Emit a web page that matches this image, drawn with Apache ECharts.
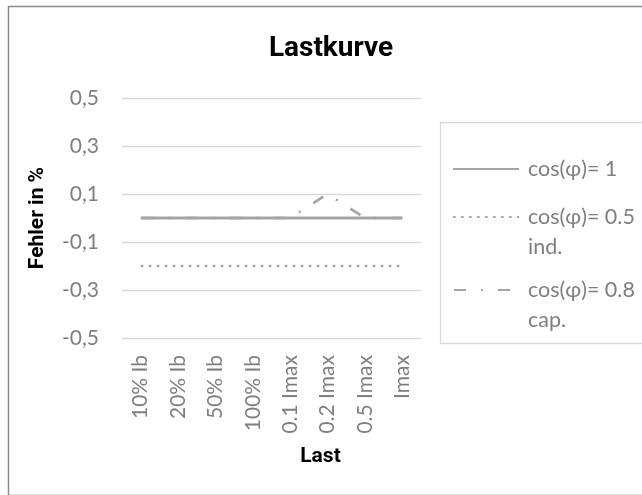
<!DOCTYPE html>
<html>
<head>
<meta charset="utf-8">
<script src="https://cdn.jsdelivr.net/npm/echarts@6/dist/echarts.min.js"></script>
<style>
html,body{margin:0;padding:0;background:#fff;}
#c{width:642px;height:495px;}
</style>
</head>
<body>
<div id="c"></div>
<script>
const categories = ['10% Ib', '20% Ib', '50% Ib', '100% Ib', '0.1 Imax', '0.2 Imax', '0.5 Imax', 'Imax'];
const cos1 = [0, 0, 0, 0, 0, 0, 0, 0];
const cos05ind = [-0.2, -0.2, -0.2, -0.2, -0.2, -0.2, -0.2, -0.2];
const cos08cap = [0, 0, 0, 0, 0, 0.1, 0, 0];
const yTicks = [-0.5, -0.3, -0.1, 0.1, 0.3, 0.5];
const names = ['cos(φ)= 1', 'cos(φ)= 0.5\nind.', 'cos(φ)= 0.8\ncap.'];

const chart = echarts.init(document.getElementById('c'));
const lineColor = '#a5a5a5';
const labelFont = 'Lato';
const legendText = {color: '#7f7f7f', fontFamily: labelFont, fontSize: 21.5, lineHeight: 30, padding: [0, 0, 0, 4]};
const legendBase = {padding: 0, itemWidth: 66, itemHeight: 14, itemGap: 0, textStyle: legendText, itemStyle: {opacity: 0}};

chart.setOption({
  backgroundColor: '#fff',
  animation: false,
  title: {
    text: 'Lastkurve',
    left: 326, top: 30, textAlign: 'center',
    textStyle: {fontFamily: 'Roboto', fontWeight: 'bold', fontSize: 28, color: '#000'}
  },
  graphic: [
    {type: 'rect', left: 6, top: 4, shape: {width: 700, height: 489}, style: {fill: 'none', stroke: '#8a8a8a', lineWidth: 1.5}, silent: true},
    {type: 'rect', left: 438, top: 120, shape: {width: 260, height: 221}, style: {fill: 'none', stroke: '#d9d9d9', lineWidth: 1.3}, silent: true}
  ],
  legend: [
    Object.assign({data: [names[0]], left: 452, top: 154}, legendBase),
    Object.assign({data: [names[1]], left: 452, top: 172, formatter: n => ' \n' + n}, legendBase),
    Object.assign({data: [names[2]], left: 452, top: 245, formatter: n => ' \n' + n}, legendBase)
  ],
  grid: {left: 122, right: 221, top: 98, bottom: 157, containLabel: false},
  xAxis: {
    type: 'category',
    data: categories,
    boundaryGap: true,
    name: 'Last',
    nameLocation: 'middle',
    nameGap: 108,
    nameTextStyle: {fontFamily: 'Roboto', fontWeight: 'bold', fontSize: 21, color: '#000', padding: [0, 0, 0, 98]},
    axisLine: {show: false},
    axisTick: {show: false},
    axisLabel: {rotate: 90, margin: 17, color: '#7f7f7f', fontFamily: labelFont, fontSize: 21, interval: 0}
  },
  yAxis: {
    type: 'value',
    min: -0.5, max: 0.5,
    name: 'Fehler in %',
    nameLocation: 'middle',
    nameGap: 74,
    nameRotate: 90,
    nameTextStyle: {fontFamily: 'Roboto', fontWeight: 'bold', fontSize: 21, color: '#000'},
    axisLine: {show: false},
    axisTick: {show: false, customValues: yTicks},
    splitLine: {show: true, lineStyle: {color: '#d9d9d9', width: 1.3}},
    axisLabel: {
      customValues: yTicks,
      margin: 23, color: '#7f7f7f', fontFamily: labelFont, fontSize: 21,
      formatter: v => v.toFixed(1).replace('.', ',')
    }
  },
  series: [
    {name: names[0], type: 'line', data: cos1, symbol: 'none', z: 5,
     lineStyle: {color: lineColor, width: 3, type: 'solid'}, itemStyle: {color: lineColor}},
    {name: names[1], type: 'line', data: cos05ind, symbol: 'none', z: 3,
     lineStyle: {color: lineColor, width: 2.6, type: [2.6, 5.4], cap: 'butt'}, itemStyle: {color: lineColor}},
    {name: names[2], type: 'line', data: cos08cap, symbol: 'none', z: 2,
     lineStyle: {color: lineColor, width: 2.6, type: [12, 15, 2, 15], dashOffset: 43, cap: 'butt'}, itemStyle: {color: lineColor}}
  ]
});
</script>
</body>
</html>
